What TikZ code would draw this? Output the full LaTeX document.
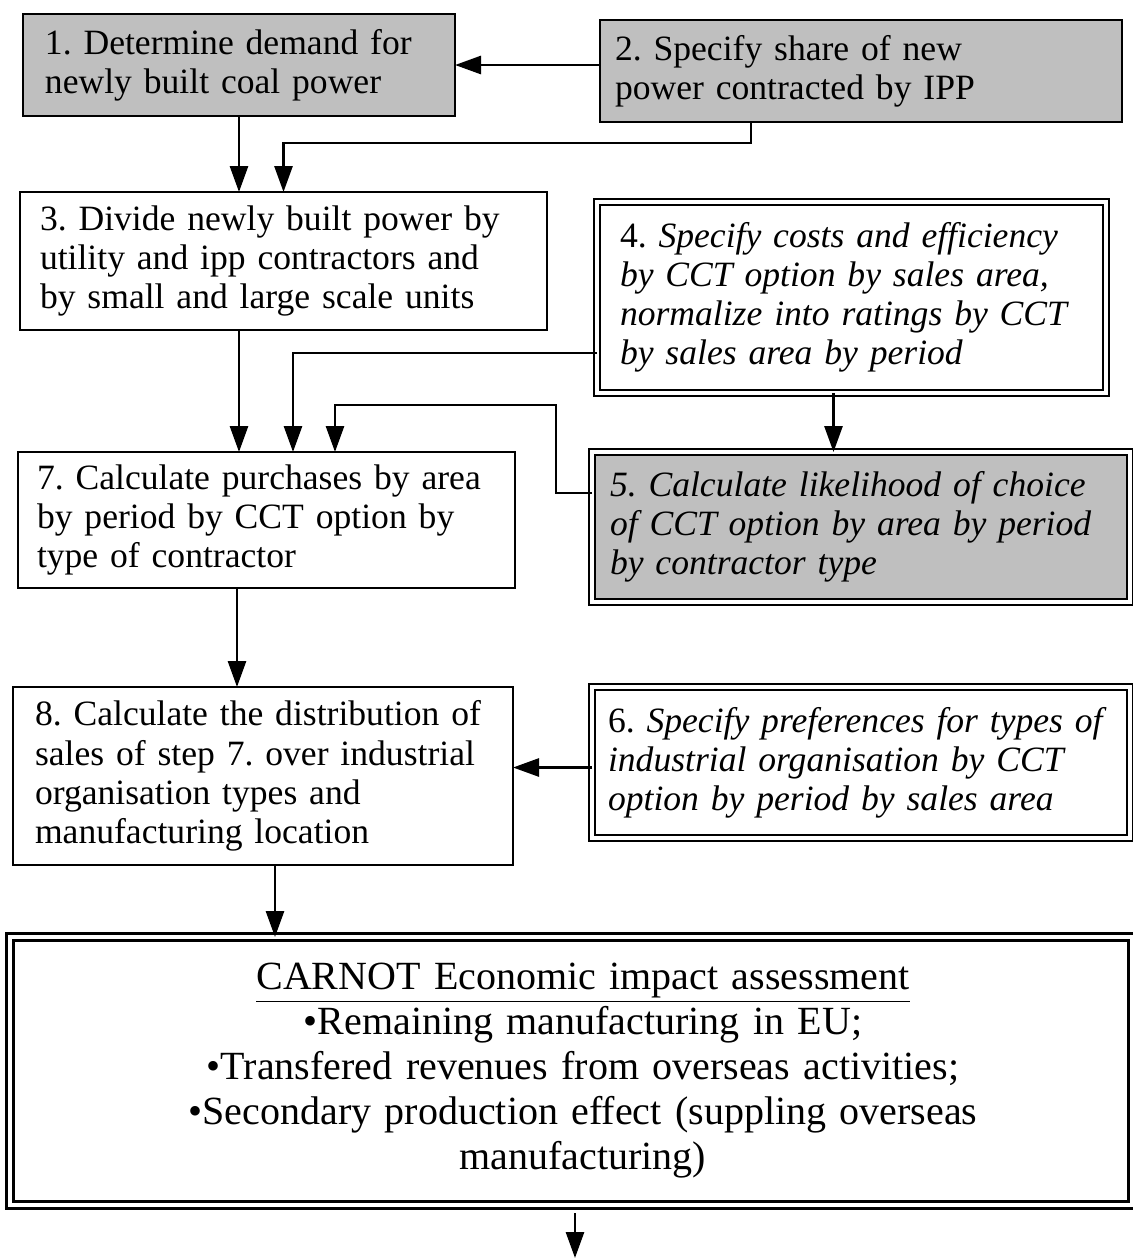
\documentclass[tikz,border=0pt]{standalone}
\usepackage{fontspec}
\setmainfont{Liberation Serif}
\usetikzlibrary{arrows.meta,calc}
\begin{document}
\frenchspacing
\begin{tikzpicture}[x=0.5pt,y=-0.5pt,
  box/.style={draw, line width=1.2pt, anchor=north west, align=left, outer sep=0pt,
    inner ysep=2pt, font=\fontsize{17.8}{19.6}\selectfont},
  shaded/.style={fill=gray!50},
  dbl/.style={double, double distance=1.6pt, line width=1.1pt},
  arr/.style={line width=1.4pt, -{Triangle[length=13pt,width=9pt]}}]
\useasboundingbox (0,0) rectangle (1132,1260);

\node[box, shaded, inner xsep=11pt, text width=194pt, minimum height=51pt] (b1) at (23,14)
  {1. Determine demand for\\newly built coal power};
\node[box, shaded, inner xsep=7.5pt, text width=246pt, minimum height=51pt] (b2) at (600,20)
  {2. Specify share of new\\power contracted by IPP};
\node[box, inner xsep=10pt, text width=243.5pt, minimum height=69pt] (b3) at (20,192)
  {3. Divide newly built power by\\utility and ipp contractors and\\by small and large scale units};
\node[box, dbl, inner xsep=11.5pt, text width=231.5pt, minimum height=95.5pt] (b4) at (597,202)
  {4. \textit{Specify costs and efficiency\\by CCT option by sales area,\\normalize into ratings by CCT\\by sales area by period}};
\node[box, dbl, shaded, inner xsep=9pt, text width=251pt, minimum height=75pt] (b5) at (592,452)
  {\textit{5. Calculate likelihood of choice\\of CCT option by area by period\\by contractor type}};
\node[box, inner xsep=9.5pt, text width=229.5pt, minimum height=68pt] (b7) at (18,452)
  {7. Calculate purchases by area\\by period by CCT option by\\type of contractor};
\node[box, dbl, inner xsep=8pt, text width=253pt, minimum height=75.5pt] (b6) at (592,687)
  {6. \textit{Specify preferences for types of\\industrial organisation by CCT\\option by period by sales area}};
\node[box, inner xsep=11pt, text width=228pt, minimum height=89pt] (b8) at (13,687)
  {8. Calculate the distribution of\\sales of step 7. over industrial\\organisation types and\\manufacturing location};
\node[box, dbl, double distance=2pt, line width=1.5pt, align=center, inner xsep=10pt,
  text width=541pt, minimum height=134pt, font=\fontsize{20}{22.5}\selectfont] (bC) at (10,937)
  {\hspace*{12pt}\underline{CARNOT Economic impact assessment}\\
   \hspace*{12pt}•Remaining manufacturing in EU;\\
   \hspace*{12pt}•Transfered revenues from overseas activities;\\
   \hspace*{12pt}•Secondary production effect (suppling overseas\\
   \hspace*{12pt}manufacturing)};
\coordinate (endpt) at (575,1258);

% connectors
\draw[arr] (b2.west |- b1.east) -- (b1.east);
\draw[arr] (b1.south) -- (b1.south |- b3.north);
\draw[arr] ([xshift=-55pt]b2.south) -- ++(0,21) -| (b3.north);
\draw[arr] (b1.south |- b3.south) -- (b1.south |- b7.north);
\draw[arr] ([yshift=20pt]b4.south west) -| ($(b7.north west)+(275,0)$);
\draw[arr] ([yshift=-20.5pt]b5.north west) -- ++(-36,0) |- ($(b7.north west)+(317,-47)$) -- ($(b7.north west)+(317,0)$);
\draw[arr] ([xshift=-9pt]b4.south) -- ([xshift=-9pt]b4.south |- b5.north);
\draw[arr] ([xshift=-14.75pt]b7.south) -- ([xshift=-14.75pt]b7.south |- b8.north);
\draw[arr] ([yshift=-2.5pt]b6.west) -- ([yshift=-2.5pt]b6.west -| b8.east);
\draw[arr] ([xshift=6pt]b8.south) -- ([xshift=6pt]b8.south |- bC.north);
\draw[arr] ([yshift=-4pt]bC.south -| endpt) -- (endpt);
\end{tikzpicture}
\end{document}
